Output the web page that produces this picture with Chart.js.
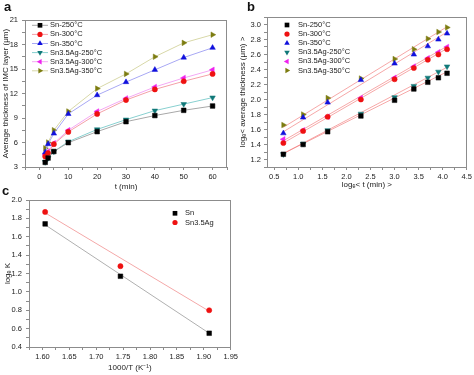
<!DOCTYPE html>
<html>
<head>
<meta charset="utf-8">
<script src="https://cdn.jsdelivr.net/npm/chart.js@4/dist/chart.umd.min.js"></script>
<style>
body { margin: 0; width: 474px; height: 375px; background: #fff; position: relative; overflow: hidden; font-family: "Liberation Sans", Arial, sans-serif; }
canvas { position: absolute; }
.tag { position: absolute; font-weight: bold; font-size: 13px; color: #111; line-height: 13px; }
</style>
</head>
<body>
<canvas id="canvasA" width="236" height="195" style="left:0;top:0"></canvas>
<canvas id="canvasB" width="238" height="195" style="left:236px;top:0"></canvas>
<canvas id="canvasC" width="240" height="190" style="left:0;top:185px"></canvas>
<div class="tag" style="left:4px;top:0px">a</div>
<div class="tag" style="left:247px;top:0px">b</div>
<div class="tag" style="left:2px;top:184px">c</div>
<script>
// panel a : thickness vs time
var tMin = [2, 3, 5, 10, 20, 30, 40, 50, 60];
var seriesNames = ['Sn-250°C', 'Sn-300°C', 'Sn-350°C', 'Sn3.5Ag-250°C', 'Sn3.5Ag-300°C', 'Sn3.5Ag-350°C'];
var sn250 = [3.57, 4.1, 4.9, 5.98, 7.33, 8.55, 9.3, 9.94, 10.47];
var sn300 = [4.3, 4.7, 5.8, 7.3, 9.5, 11.2, 12.5, 13.5, 14.4];
var sn350 = [4.8, 5.8, 7.1, 9.5, 11.8, 13.4, 14.9, 16.4, 17.6];
var ag250 = [3.6, 4.1, 4.9, 6.1, 7.6, 8.8, 9.9, 10.7, 11.5];
var ag300 = [4.5, 4.9, 5.9, 7.5, 9.8, 11.4, 12.8, 13.9, 14.9];
var ag350 = [5.3, 6.0, 7.5, 9.8, 12.6, 14.4, 16.5, 18.2, 19.2];

// panel b : ln thickness vs ln time
var lnT = [0.69, 1.10, 1.61, 2.30, 3.00, 3.40, 3.69, 3.91, 4.09];
var lnSn250 = [1.27, 1.40, 1.57, 1.78, 1.99, 2.14, 2.23, 2.29, 2.35];
var lnSn300 = [1.42, 1.58, 1.77, 2.00, 2.27, 2.42, 2.53, 2.60, 2.67];
var lnSn350 = [1.55, 1.76, 1.96, 2.26, 2.48, 2.60, 2.71, 2.80, 2.88];
var lnAg250 = [1.27, 1.41, 1.59, 1.81, 2.03, 2.18, 2.29, 2.37, 2.44];
var lnAg300 = [1.47, 1.59, 1.77, 2.02, 2.29, 2.44, 2.55, 2.63, 2.70];
var lnAg350 = [1.66, 1.80, 2.02, 2.28, 2.54, 2.67, 2.81, 2.90, 2.96];
var fitLnT = [0.69, 4.09];
var fitSn250 = [1.28, 2.37];
var fitSn300 = [1.42, 2.68];
var fitSn350 = [1.57, 2.90];
var fitAg250 = [1.28, 2.43];
var fitAg300 = [1.45, 2.71];
var fitAg350 = [1.63, 2.97];

// panel c : ln K vs 1000/T
var invT = [1.605, 1.745, 1.91];
var lnKSn = [1.74, 1.17, 0.55];
var lnKAg = [1.87, 1.28, 0.80];
var fitInvT = [1.605, 1.91];
var fitKSn = [1.73, 0.55];
var fitKAg = [1.86, 0.79];
var cNames = ['Sn', 'Sn3.5Ag'];

// tick labels
var aXLabels = [0, 10, 20, 30, 40, 50, 60];
var aYLabels = [3, 6, 9, 12, 15, 18, 21];
var bXLabels = [0.5, 1.0, 1.5, 2.0, 2.5, 3.0, 3.5, 4.0, 4.5];
var bYLabels = [1.2, 1.4, 1.6, 1.8, 2.0, 2.2, 2.4, 2.6, 2.8, 3.0];
var cXLabels = [1.60, 1.65, 1.70, 1.75, 1.80, 1.85, 1.90, 1.95];
var cYLabels = [0.4, 0.6, 0.8, 1.0, 1.2, 1.4, 1.6, 1.8, 2.0];

var FONT = '"Liberation Sans", Arial, sans-serif';
var TEXT = '#222';
var AXIS = '#8c8c8c';

var styles = [
    { mark: '#000000', line: '#a8a8a8', shape: 'rect', rot: 0, r: 3.3 },
    { mark: '#ee1111', line: '#f4a0a8', shape: 'circle', rot: 0, r: 2.6 },
    { mark: '#1010dd', line: '#a8a8f4', shape: 'triangle', rot: 0, r: 3.2 },
    { mark: '#107878', line: '#88d0d0', shape: 'triangle', rot: 180, r: 3.2 },
    { mark: '#ee22ee', line: '#f4a8f4', shape: 'triangle', rot: 270, r: 3.2 },
    { mark: '#7c7c10', line: '#d8d8a8', shape: 'triangle', rot: 90, r: 3.2 }
];

function pts(xs, ys) {
    return xs.map((x, i) => ({ x: x, y: ys[i] }));
}

// major labels plus a minor tick half way between them
function withMinors(labels, min, max) {
    var half = (labels[1] - labels[0]) / 2;
    var out = [];
    var v = labels[0];
    while (v - half >= min - 1e-9) v -= half;
    for (; v <= max + 1e-9; v += half) out.push(+v.toFixed(4));
    return out;
}

function axis(min, max, labels, decimals, size, horizontal, title, titlePad, tickPad) {
    var all = withMinors(labels, min, max);
    return {
        type: 'linear',
        min: min,
        max: max,
        afterBuildTicks: function (scale) {
            scale.ticks = all.map(v => ({ value: v }));
        },
        afterFit: function (scale) {
            if (horizontal) scale.height = size; else scale.width = size;
        },
        ticks: {
            autoSkip: false,
            maxRotation: 0,
            padding: tickPad,
            color: TEXT,
            font: { family: FONT, size: 7.5 },
            callback: function (value) {
                var isMajor = labels.some(l => Math.abs(l - value) < 1e-6);
                return isMajor ? Number(value).toFixed(decimals) : '';
            }
        },
        grid: { drawOnChartArea: false, drawTicks: true, tickLength: 3, color: AXIS },
        border: { display: true, color: AXIS, width: 1 },
        title: { display: true, text: title, color: TEXT, font: { family: FONT, size: 8 }, padding: titlePad }
    };
}

function markerSet(label, xs, ys, st, lineColor) {
    return {
        label: label,
        data: pts(xs, ys),
        showLine: !!lineColor,
        borderColor: lineColor || st.mark,
        borderWidth: 1,
        pointStyle: st.shape,
        pointRotation: st.rot,
        pointRadius: st.r,
        pointBackgroundColor: st.mark,
        pointBorderColor: st.mark,
        pointBorderWidth: 0.5,
        order: 1
    };
}

function fitSet(xs, ys, color) {
    return {
        label: '',
        data: pts(xs, ys),
        showLine: true,
        borderColor: color,
        borderWidth: 1,
        pointRadius: 0,
        order: 2
    };
}

function drawMarker(ctx, shape, rot, r, x, y) {
    ctx.save();
    ctx.translate(x, y);
    ctx.rotate(rot * Math.PI / 180);
    ctx.beginPath();
    if (shape === 'rect') {
        var s = r * Math.SQRT1_2;
        ctx.rect(-s, -s, 2 * s, 2 * s);
    } else if (shape === 'circle') {
        ctx.arc(0, 0, r, 0, Math.PI * 2);
    } else {
        for (var k = 0; k < 3; k++) {
            var a = k * 2 * Math.PI / 3;
            ctx.lineTo(Math.sin(a) * r, -Math.cos(a) * r);
        }
        ctx.closePath();
    }
    ctx.fill();
    ctx.restore();
}

var frameAndLegend = {
    id: 'frameAndLegend',
    beforeDatasetsDraw: function (chart) {
        var ca = chart.chartArea, ctx = chart.ctx;
        ctx.save();
        ctx.strokeStyle = AXIS;
        ctx.lineWidth = 1;
        ctx.strokeRect(Math.round(ca.left) + 0.5, Math.round(ca.top) + 0.5, Math.round(ca.right - ca.left) - 1, Math.round(ca.bottom - ca.top));
        ctx.restore();
    },
    afterDatasetsDraw: function (chart, args, opts) {
        var ctx = chart.ctx;
        var row = 0;
        ctx.save();
        ctx.font = '7.5px ' + FONT;
        ctx.textBaseline = 'middle';
        chart.data.datasets.forEach(function (ds) {
            if (!ds.label) return;
            var y = opts.top + row * opts.rowHeight;
            if (opts.lineHalf) {
                ctx.strokeStyle = ds.borderColor;
                ctx.lineWidth = 1;
                ctx.beginPath();
                ctx.moveTo(opts.markX - opts.lineHalf, y);
                ctx.lineTo(opts.markX + opts.lineHalf, y);
                ctx.stroke();
            }
            ctx.fillStyle = ds.pointBackgroundColor;
            drawMarker(ctx, ds.pointStyle, ds.pointRotation, ds.pointRadius, opts.markX, y);
            ctx.fillStyle = TEXT;
            ctx.fillText(ds.label, opts.textX, y);
            row++;
        });
        ctx.restore();
    }
};

function makeChart(id, datasets, scales, padding, legendOpts) {
    try {
        var ctx = document.getElementById(id).getContext('2d');
        return new Chart(ctx, {
            type: 'scatter',
            data: { datasets: datasets },
            options: {
                responsive: false,
                animation: false,
                devicePixelRatio: 1,
                layout: { padding: padding },
                scales: scales,
                plugins: {
                    legend: { display: false },
                    tooltip: { enabled: false },
                    frameAndLegend: legendOpts
                }
            },
            plugins: [frameAndLegend]
        });
    } catch (error) {
        console.log('Error draw:' + error);
    }
}

var aSeries = [sn250, sn300, sn350, ag250, ag300, ag350];
var aSets = aSeries.map((ys, i) => markerSet(seriesNames[i], tMin, ys, styles[i], styles[i].line));
makeChart('canvasA', aSets, {
    x: axis(-5, 65, aXLabels, 0, 28, true, 't (min)', { top: 0, bottom: 3 }, 2),
    y: axis(3, 21, aYLabels, 0, 25, false, 'Average thickness of IMC layer (μm)', { top: 1, bottom: 0 }, 4)
}, { top: 20, right: 9, left: 0, bottom: 0 }, { markX: 40, textX: 50, top: 25.3, rowHeight: 9.1, lineHalf: 8 });

var bSeries = [lnSn250, lnSn300, lnSn350, lnAg250, lnAg300, lnAg350];
var bFits = [fitSn250, fitSn300, fitSn350, fitAg250, fitAg300, fitAg350];
var bSets = bSeries.map((ys, i) => markerSet(seriesNames[i], lnT, ys, styles[i], null));
bFits.forEach(f => bSets.push(fitSet(fitLnT, f, 'rgba(240,110,110,0.6)')));
makeChart('canvasB', bSets, {
    x: axis(0.35, 4.5, bXLabels, 1, 28, true, 'logₑ< t (min) >', { top: 0, bottom: 5 }, 2),
    y: axis(1.1, 3.1, bYLabels, 1, 31, false, 'logₑ< average thickness (μm) >', { top: 2, bottom: 0 }, 3)
}, { top: 17, right: 5, left: 0, bottom: 0 }, { markX: 51, textX: 62, top: 25, rowHeight: 9.1, lineHalf: 0 });

var cSets = [
    markerSet(cNames[0], invT, lnKSn, styles[0], null),
    markerSet(cNames[1], invT, lnKAg, styles[1], null),
    fitSet(fitInvT, fitKSn, '#b0b0b0'),
    fitSet(fitInvT, fitKAg, '#f4a8a8')
];
makeChart('canvasC', cSets, {
    x: axis(1.575, 1.95, cXLabels, 2, 28, true, '1000/T (K⁻¹)', { top: 0, bottom: 2.5 }, 2),
    y: axis(0.4, 2.0, cYLabels, 1, 29, false, 'logₑ K', { top: 2.5, bottom: 0 }, 4)
}, { top: 15, right: 9, left: 0, bottom: 0 }, { markX: 175, textX: 185, top: 28.3, rowHeight: 9.2, lineHalf: 0 });
</script>
</body>
</html>
